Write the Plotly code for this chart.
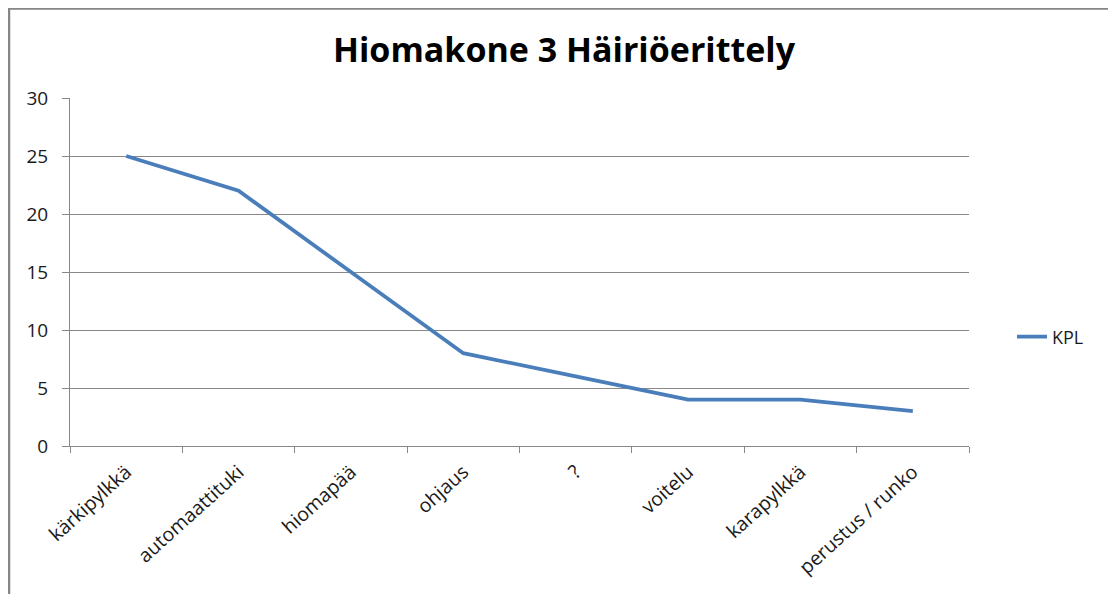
import plotly.graph_objects as go

categories = ["kärkipylkkä", "automaattituki", "hiomapää", "ohjaus", "?",
              "voitelu", "karapylkkä", "perustus / runko"]
kpl = [25, 22, 15, 8, 6, 4, 4, 3]
y_ticks = [0, 5, 10, 15, 20, 25, 30]

# page body has an 8px margin, so the figure is 8px smaller and shifted
W, H = 1108, 586
L, R, T, B = 62, 147, 90, 148
pw, ph = W - L - R, H - T - B

def px(x):
    return (x - L) / pw

def py(y):
    return (H - B - y) / ph

fig = go.Figure()
fig.add_trace(go.Scatter(
    x=categories, y=kpl, mode="lines", name="KPL",
    line=dict(color="#4a7ebb", width=3.8),
))

fig.update_layout(
    width=W, height=H,
    margin=dict(l=L, r=R, t=T, b=B),
    paper_bgcolor="white", plot_bgcolor="white",
    font=dict(family="'Open Sans', sans-serif", size=16, color="#1a1a1a"),
    title=dict(text="<b>Hiomakone 3 Häiriöerittely</b>", x=px(556), xanchor="center",
               xref="paper", y=1 - 42 / H, yanchor="middle",
               font=dict(family="'Open Sans', sans-serif", size=34, color="black")),
    showlegend=True,
    legend=dict(x=px(1004), y=py(329), xanchor="left", yanchor="middle",
                font=dict(size=18), bgcolor="rgba(0,0,0,0)"),
    xaxis=dict(type="category", range=[-0.5, len(categories) - 0.5],
               tickson="boundaries", ticks="outside", ticklen=6, tickcolor="#888888",
               showline=True, linecolor="#888888", linewidth=1,
               showgrid=False, tickangle=-42, tickfont=dict(size=19.5),
               ticklabelstandoff=6),
    yaxis=dict(range=[0, 30], tickvals=y_ticks, ticks="outside", ticklen=7,
               tickcolor="#888888", showline=True, linecolor="#888888", linewidth=1,
               showgrid=True, gridcolor="#888888", gridwidth=1, zeroline=False,
               tickfont=dict(size=19), ticklabelstandoff=10),
    shapes=[dict(type="rect", xref="paper", yref="paper",
                 x0=px(1), x1=px(1107), y0=py(620), y1=py(0.5),
                 line=dict(color="#868686", width=2.5), fillcolor="rgba(0,0,0,0)",
                 layer="below")],
)

fig.write_html("out.html")
